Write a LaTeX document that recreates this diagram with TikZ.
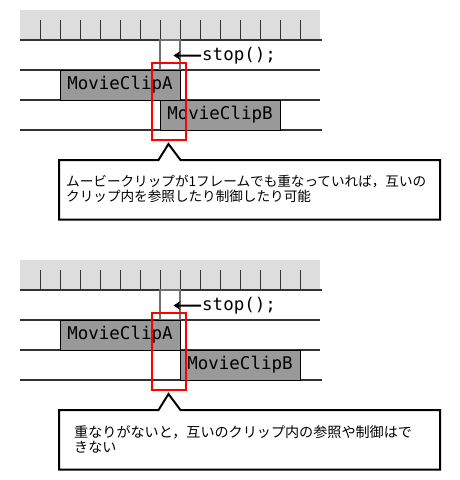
\documentclass[tikz,border=0pt]{standalone}
\usepackage{fontspec}
\newfontfamily\jpfont{Noto Sans CJK JP}
\newfontfamily\codefont{DejaVu Sans Mono}
\usetikzlibrary{arrows.meta}
\definecolor{rulergray}{HTML}{DDDDDD}
\definecolor{trackgray}{HTML}{333333}
\definecolor{clipgray}{HTML}{999999}
\definecolor{framegray}{HTML}{707070}
\tikzset{
  rulerbg/.style={fill=rulergray},
  tickline/.style={draw=trackgray, line width=1pt},
  trackthick/.style={draw=trackgray, line width=2.8pt},
  trackthin/.style={draw=trackgray, line width=2pt},
  framebox/.style={draw=framegray, line width=1.5pt, minimum width=20pt, minimum height=30pt, inner sep=0pt},
  clipbox/.style={draw=black, fill=clipgray, line width=1pt, minimum width=120pt, minimum height=30pt, inner sep=0pt, font=\codefont\fontsize{17.5}{20}\selectfont},
  codetext/.style={inner sep=0pt, font=\codefont\fontsize{17.5}{20}\selectfont},
  hilite/.style={draw=red, line width=2pt, minimum width=34pt, minimum height=77.5pt, inner sep=0pt},
  callout/.style={draw=black, line width=2pt, fill=white, line join=miter},
  pointer/.style={draw=black, line width=2pt, -{Stealth[length=7pt,width=9pt]}},
  jptexttop/.style={anchor=base west, inner sep=0pt, font=\jpfont\fontsize{13.6}{15}\selectfont},
  jptextbot/.style={anchor=base west, inner sep=0pt, font=\jpfont\fontsize{14.1}{16}\selectfont}
}
\begin{document}
\begin{tikzpicture}[x=1pt,y=-1pt]
\useasboundingbox (0,0) rectangle (460,480);
\foreach \dy/\s/\bx in {0/t/220, 250/b/240} {
  \begin{scope}[yshift=-\dy pt]
    \fill[rulerbg] (20,10) rectangle (320,40);
    \foreach \x in {40,60,...,300} \draw[tickline] (\x,20) -- (\x,40);
    \draw[trackthick] (20,40) -- (322,40);
    \draw[trackthin] (20,70) -- (320,70);
    \draw[trackthin] (20,100) -- (320,100);
    \draw[trackthick] (20,130) -- (322,130);
    \node[framebox] (frame\s) at (170,55) {};
    \node[codetext, anchor=base west] (stop\s) at (202,60.5) {stop();};
    \coordinate (tip\s) at (173.5,55.5);
    \draw[pointer] ([xshift=-1pt]stop\s.west) -- (tip\s);
    \node[clipbox] (A\s) at (120,85) {MovieClipA};
    \node[clipbox] (B\s) at (\bx,115) {MovieClipB};
    \node[hilite] (red\s) at (169,101.5) {};
    \draw[callout] (158.5,160) -- (168.5,144) -- (180.5,160) -- (440,160) -- (440,219.5) -- (59,219.5) -- (59,160) -- cycle;
  \end{scope}
}
\node[jptexttop] (t1) at (66,186.5) {ムービークリップが1フレームでも重なっていれば，互いの};
\node[jptexttop] (t2) at (66,201.5) {クリップ内を参照したり制御したり可能};
\node[jptextbot] (b1) at (74,437) {重なりがないと，互いのクリップ内の参照や制御はで};
\node[jptextbot] (b2) at (74,452.5) {きない};
\end{tikzpicture}
\end{document}
